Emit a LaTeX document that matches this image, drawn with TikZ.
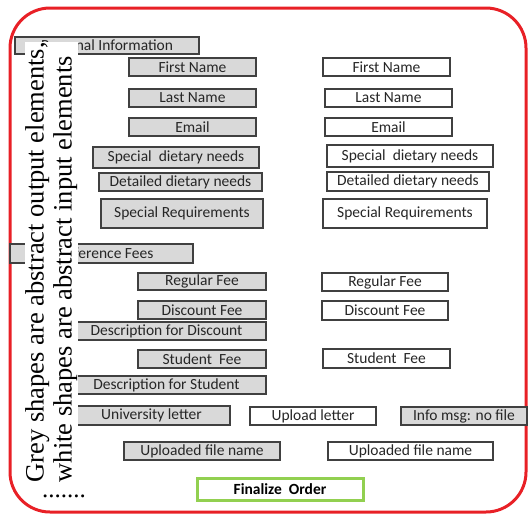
\documentclass[tikz,border=0pt]{standalone}
\usepackage{fontspec}
\setmainfont{Carlito}
\newfontfamily\notefont{Liberation Serif}
\definecolor{framered}{RGB}{232,32,38}
\definecolor{boxgrey}{RGB}{217,217,217}
\definecolor{edgegrey}{RGB}{64,64,64}
\definecolor{okgreen}{RGB}{146,208,80}
\begin{document}
\begin{tikzpicture}[x=1pt,y=-1pt,
        field/.style={draw=edgegrey,line width=1.2pt,inner sep=0pt,text=black!85,
            font=\fontsize{15.5}{16}\selectfont},
        outfield/.style={field,fill=boxgrey},
        infield/.style={field,fill=white}]
        \useasboundingbox (0,0) rectangle (528,515);
        %% Frame
        \draw[framered,line width=3pt,rounded corners=40pt] (10,8) rectangle (526,512);
        %% Personal information
        \node[outfield,minimum width=184pt,minimum height=17pt] (persinfo) at (107,45.5) {Personal Information};
        \node[outfield,minimum width=127pt,minimum height=18pt] (fnameout) at (192.5,67) {First Name};
        \node[outfield,minimum width=127pt,minimum height=18pt] (lnameout) at (192.5,98) {Last Name};
        \node[outfield,minimum width=127pt,minimum height=18pt] (emailout) at (192.5,127) {Email};
        \node[outfield,minimum width=166pt,minimum height=21pt] (dietout) at (176,157.5) {Special\ \ dietary needs};
        \node[outfield,minimum width=163pt,minimum height=18pt] (detdietout) at (180.5,182) {Detailed dietary needs};
        \node[outfield,minimum width=162pt,minimum height=29pt] (sreqout) at (182,213.5) {Special Requirements};
        \node[infield,minimum width=127pt,minimum height=18pt] (fnamein) at (386.5,67) {First Name};
        \node[infield,minimum width=127pt,minimum height=18pt] (lnamein) at (388.5,98) {Last Name};
        \node[infield,minimum width=127pt,minimum height=18pt] (emailin) at (388.5,127) {Email};
        \node[infield,minimum width=166pt,minimum height=22pt] (dietin) at (410,156) {Special\ \ dietary needs};
        \node[infield,minimum width=162pt,minimum height=19pt] (detdietin) at (408,181.5) {Detailed dietary needs};
        \node[infield,minimum width=164pt,minimum height=29pt] (sreqin) at (405,213.5) {Special Requirements};
        %% Conference fees
        \node[outfield,minimum width=183pt,minimum height=19pt] (conffees) at (101.5,253.5) {Conference Fees};
        \node[outfield,minimum width=128pt,minimum height=17pt] (regfeeout) at (202,281.5) {Regular Fee};
        \node[outfield,minimum width=128pt,minimum height=18pt] (discfeeout) at (202,310) {Discount Fee};
        \node[outfield,minimum width=199pt,minimum height=18pt] (discdesc) at (166.5,331) {Description for Discount};
        \node[outfield,minimum width=128pt,minimum height=18pt] (studfeeout) at (202,359) {Student\ \ Fee};
        \node[outfield,minimum width=199pt,minimum height=18pt] (studdesc) at (166.5,385) {Description for Student};
        \node[outfield,minimum width=157pt,minimum height=19pt] (uniletter) at (151.5,415.5) {University letter};
        \node[outfield,minimum width=156pt,minimum height=18pt] (fileout) at (202,451) {Uploaded file name};
        \node[outfield,minimum width=126pt,minimum height=18pt] (nofile) at (464,416) {Info msg: no file};
        \node[infield,minimum width=126pt,minimum height=18pt] (regfeein) at (385,282) {Regular Fee};
        \node[infield,minimum width=126pt,minimum height=19pt] (discfeein) at (385,310.5) {Discount Fee};
        \node[infield,minimum width=127pt,minimum height=19pt] (studfeein) at (386.5,358.5) {Student\ \ Fee};
        \node[infield,minimum width=126pt,minimum height=18pt] (upletter) at (313,416) {Upload letter};
        \node[infield,minimum width=165pt,minimum height=18pt] (filein) at (410.5,451) {Uploaded file name};
        %% Finalize
        \node[field,draw=okgreen,line width=3pt,fill=white,minimum width=166pt,minimum height=22pt,
            font=\fontsize{15.5}{16}\selectfont\bfseries,text=black] (finalize) at (280,489) {Finalize\ \ Order};
        %% Note
        \node[rotate=90,anchor=south west,fill=white,inner sep=0.5pt,align=left,
            font=\notefont\fontsize{26.5}{28}\selectfont] (legend) at (78,483)
            {Grey shapes are abstract output elements,\\white shapes are abstract input elements};
        \node[font=\notefont\fontsize{25}{25}\selectfont] (dots) at (64,496) {.......};
    \end{tikzpicture}
\end{document}
